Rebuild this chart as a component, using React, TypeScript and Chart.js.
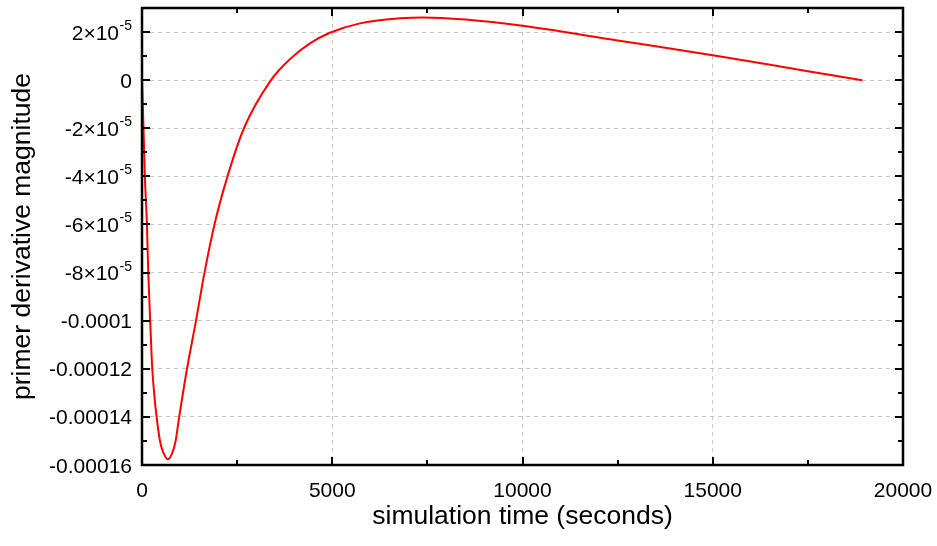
import { useEffect, useRef } from "react";
import { Chart, registerables } from "chart.js";

Chart.register(...registerables);

// simulation time (s)
const times = [
  0, 40, 75, 130, 165, 215, 270, 330, 384, 473, 564, 680, 796, 883, 978, 1183,
  1419, 1643, 1905, 2247, 2680, 3390, 3890, 4415, 4941, 5729, 6780, 7393,
  8500, 10000, 12500, 15000, 17500, 18930,
];
// primer derivative magnitude
const values = [
  0, -2.0e-5, -4.0e-5, -6.0e-5, -8.0e-5, -1.0e-4, -1.2e-4, -1.32e-4, -1.4e-4,
  -1.5e-4, -1.55e-4, -1.576e-4, -1.55e-4, -1.5e-4, -1.4e-4, -1.2e-4, -1.0e-4,
  -8.0e-5, -6.0e-5, -4.0e-5, -2.0e-5, 0, 8.75e-6, 1.53e-5, 1.97e-5,
  2.36e-5, 2.57e-5, 2.61e-5, 2.52e-5, 2.26e-5, 1.65e-5, 1.04e-5, 3.7e-6, 0,
];

const xMajorTicks = [0, 5000, 10000, 15000, 20000];
const xMinorTicks = [2500, 7500, 12500, 17500];
const xTickLabels = ["0", "5000", "10000", "15000", "20000"];

const yMajorTicks = [
  -0.00016, -0.00014, -0.00012, -0.0001, -0.00008, -0.00006, -0.00004, -0.00002, 0, 0.00002,
];
const yMinorTicks = [
  -0.00015, -0.00013, -0.00011, -0.00009, -0.00007, -0.00005, -0.00003, -0.00001, 0.00001,
];
const yTickLabels = [
  "-0.00016", "-0.00014", "-0.00012", "-0.0001", "-8×10^-5", "-6×10^-5", "-4×10^-5",
  "-2×10^-5", "0", "2×10^-5",
];

const xTitle = "simulation time (seconds)";
const yTitle = "primer derivative magnitude";

const FONT = '"Liberation Sans", Arial, Helvetica, sans-serif';

const framePlugin = {
  id: "framePlugin",
  afterDraw(chart: any) {
    const { ctx, chartArea: a, scales } = chart;
    const x = scales.x;
    const y = scales.y;
    ctx.save();
    ctx.strokeStyle = "#000";
    ctx.lineWidth = 2;
    ctx.lineCap = "butt";
    const xt = (vals: number[], len: number) => {
      vals.forEach((v) => {
        const px = Math.round(x.getPixelForValue(v));
        ctx.beginPath();
        ctx.moveTo(px, a.bottom);
        ctx.lineTo(px, a.bottom - len);
        ctx.moveTo(px, a.top);
        ctx.lineTo(px, a.top + len);
        ctx.stroke();
      });
    };
    const yt = (vals: number[], len: number) => {
      vals.forEach((v) => {
        const py = Math.round(y.getPixelForValue(v));
        ctx.beginPath();
        ctx.moveTo(a.left, py);
        ctx.lineTo(a.left + len, py);
        ctx.moveTo(a.right, py);
        ctx.lineTo(a.right - len, py);
        ctx.stroke();
      });
    };
    xt(xMajorTicks, 8);
    xt(xMinorTicks, 5);
    yt(yMajorTicks, 8);
    yt(yMinorTicks, 5);

    ctx.lineWidth = 2.5;
    ctx.strokeRect(a.left, a.top, a.right - a.left, a.bottom - a.top);

    ctx.fillStyle = "#000";
    ctx.font = `21px ${FONT}`;
    ctx.textBaseline = "alphabetic";
    ctx.textAlign = "center";
    xMajorTicks.forEach((v, i) => {
      ctx.fillText(xTickLabels[i], x.getPixelForValue(v), a.bottom + 32);
    });

    const rightX = a.left - 10;
    yMajorTicks.forEach((v, i) => {
      const py = y.getPixelForValue(v);
      const label = yTickLabels[i];
      const parts = label.split("^");
      ctx.textAlign = "right";
      if (parts.length === 2) {
        ctx.font = `14px ${FONT}`;
        const ew = ctx.measureText(parts[1]).width;
        ctx.fillText(parts[1], rightX, py + 7 - 9);
        ctx.font = `21px ${FONT}`;
        ctx.fillText(parts[0], rightX - ew - 0.5, py + 7.5);
      } else {
        ctx.font = `21px ${FONT}`;
        ctx.fillText(label, rightX, py + 7.5);
      }
    });

    ctx.font = `26.5px ${FONT}`;
    ctx.textAlign = "center";
    ctx.fillText(xTitle, (a.left + a.right) / 2, 524);

    ctx.translate(30, (a.top + a.bottom) / 2);
    ctx.rotate(-Math.PI / 2);
    ctx.fillText(yTitle, 0, 0);
    ctx.restore();
  },
};

export default function App() {
  const ref = useRef<HTMLCanvasElement | null>(null);
  useEffect(() => {
    if (!ref.current) return;
    const data = times.map((t, i) => ({ x: t, y: values[i] }));
    const chart = new Chart(ref.current, {
      type: "line",
      data: {
        datasets: [
          {
            data,
            borderColor: "#ff0000",
            borderWidth: 2,
            pointRadius: 0,
            fill: false,
            cubicInterpolationMode: "monotone",
          },
        ],
      },
      options: {
        responsive: false,
        animation: false,
        layout: { padding: { left: 142, top: 8, right: 34, bottom: 81 } },
        plugins: { legend: { display: false }, tooltip: { enabled: false } },
        scales: {
          x: {
            type: "linear",
            min: 0,
            max: 20000,
            afterBuildTicks: (s: any) => {
              s.ticks = xMajorTicks.map((v) => ({ value: v }));
            },
            afterFit: (s: any) => {
              s.height = 0;
            },
            ticks: { display: false },
            grid: { color: "#c8c8c8", lineWidth: 1, drawTicks: false },
            border: { display: false, dash: [4, 4] },
          },
          y: {
            type: "linear",
            min: -0.00016,
            max: 0.00003,
            afterBuildTicks: (s: any) => {
              s.ticks = yMajorTicks.map((v) => ({ value: v }));
            },
            afterFit: (s: any) => {
              s.width = 0;
            },
            ticks: { display: false },
            grid: { color: "#c8c8c8", lineWidth: 1, drawTicks: false },
            border: { display: false, dash: [4, 4] },
          },
        },
      },
      plugins: [framePlugin],
    });
    return () => chart.destroy();
  }, []);
  return (
    <canvas
      ref={ref}
      width={937}
      height={546}
      style={{ position: "fixed", left: 0, top: 0, width: 937, height: 546, display: "block" }}
    />
  );
}
